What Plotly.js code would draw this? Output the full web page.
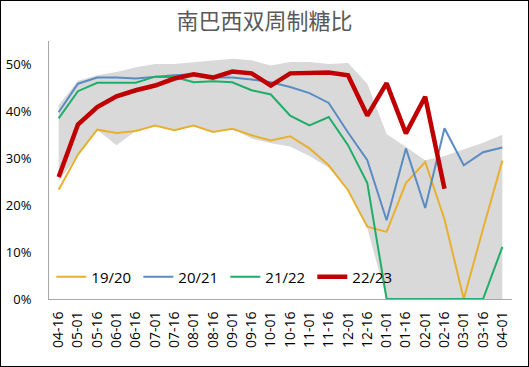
<!DOCTYPE html>
<html>
<head>
<meta charset="utf-8">
<script src="https://cdn.plot.ly/plotly-3.0.1.min.js"></script>
<style>
html,body{margin:0;padding:0;background:#fff;}
#chart{width:529px;height:367px;box-sizing:border-box;border:1px solid #000;}
</style>
</head>
<body>
<div id="chart"></div>
<script>
const categories = ["04-16","05-01","05-16","06-01","06-16","07-01","07-16","08-01","08-16","09-01","09-16","10-01","10-16","11-01","11-16","12-01","12-16","01-01","01-16","02-01","02-16","03-01","03-16","04-01"];

const bandUpper = [41.3,46.5,47.7,48.4,49.4,50.1,50.1,50.5,50.8,51.2,50.9,49.8,50.5,50.5,50.1,50.3,45.9,35.2,32.4,29.6,30.5,31.9,33.3,35.0];
const bandLower = [25.0,30.8,36.1,32.8,35.8,37.0,36.0,37.0,35.6,36.3,34.2,33.2,32.5,30.5,28.0,23.2,15.1,0,0,0,0,0,0,0];

const s1920 = [23.3,30.8,36.1,35.4,35.8,37.0,36.0,37.0,35.6,36.3,34.9,33.8,34.7,32.1,28.5,23.2,15.4,14.3,24.7,29.2,17.0,0,15.0,29.5];
const s2021 = [39.8,45.9,47.2,47.2,47.0,47.4,47.7,47.9,47.2,47.2,46.8,46.2,45.2,43.9,41.8,35.5,29.6,16.8,32.1,19.4,36.4,28.5,31.3,32.3];
const s2122 = [38.5,44.3,46.1,46.1,46.1,47.4,47.3,46.2,46.4,46.2,44.5,43.6,39.1,37.0,38.8,32.8,24.7,0,0,0,0,0,0,11.1];
const s2223 = [26.0,37.2,40.9,43.2,44.5,45.5,47.0,47.9,47.2,48.5,48.1,45.5,48.1,48.3,48.3,47.7,39.1,46.0,35.3,43.1,23.5];

const seriesNames = ["19/20","20/21","21/22","22/23"];

const pct = a => a.map(v => v/100);

const traces = [
  {x: categories, y: pct(bandLower), type:'scatter', mode:'lines', line:{width:0, color:'rgba(0,0,0,0)'}, showlegend:false, hoverinfo:'skip'},
  {x: categories, y: pct(bandUpper), type:'scatter', mode:'lines', line:{width:0, color:'rgba(0,0,0,0)'}, fill:'tonexty', fillcolor:'#d9d9d9', showlegend:false, hoverinfo:'skip'},
  {x: categories, y: pct(s1920), name: seriesNames[0], type:'scatter', mode:'lines', line:{color:'#e8b030', width:2}},
  {x: categories, y: pct(s2021), name: seriesNames[1], type:'scatter', mode:'lines', line:{color:'#5a8cc2', width:2}},
  {x: categories, y: pct(s2122), name: seriesNames[2], type:'scatter', mode:'lines', line:{color:'#1fad6a', width:2}},
  {x: categories.slice(0, s2223.length), y: pct(s2223), name: seriesNames[3], type:'scatter', mode:'lines', line:{color:'#c00000', width:4.5}}
];

const layout = {
  width: 527, height: 365,
  margin: {l:48, r:16, t:40, b:67, pad:0},
  paper_bgcolor:'#fff', plot_bgcolor:'#fff',
  font: {family:'"Open Sans", "Noto Sans", sans-serif', color:'#000', size:13},
  title: {text:'南巴西双周制糖比', x:0.5, xanchor:'center', y:0.945, yanchor:'middle',
          font:{family:'"Noto Sans CJK SC", sans-serif', size:22, color:'#595959'}},
  xaxis: {type:'category', range:[-0.5,23.5], showgrid:false, zeroline:false,
          showline:true, linecolor:'#a6a6a6', linewidth:1, ticks:'', tickangle:-90,
          tickfont:{size:14, color:'#000'}, ticklabelstandoff:6, automargin:false},
  yaxis: {range:[0,0.55], tickvals:[0,0.1,0.2,0.3,0.4,0.5], tickformat:'.0%', showgrid:false,
          zeroline:false, showline:true, linecolor:'#a6a6a6', linewidth:1, ticks:'',
          tickfont:{size:13, color:'#000'}, ticklabelstandoff:14, automargin:false},
  legend: {orientation:'h', x:0.005, xanchor:'left', y:0.085, yanchor:'middle',
           bgcolor:'rgba(0,0,0,0)', font:{size:15, color:'#000'},
           entrywidth:42, entrywidthmode:'pixels', itemwidth:30, traceorder:'normal'},
  showlegend:true
};

Plotly.newPlot('chart', traces, layout, {displayModeBar:false, staticPlot:true});
</script>
</body>
</html>
